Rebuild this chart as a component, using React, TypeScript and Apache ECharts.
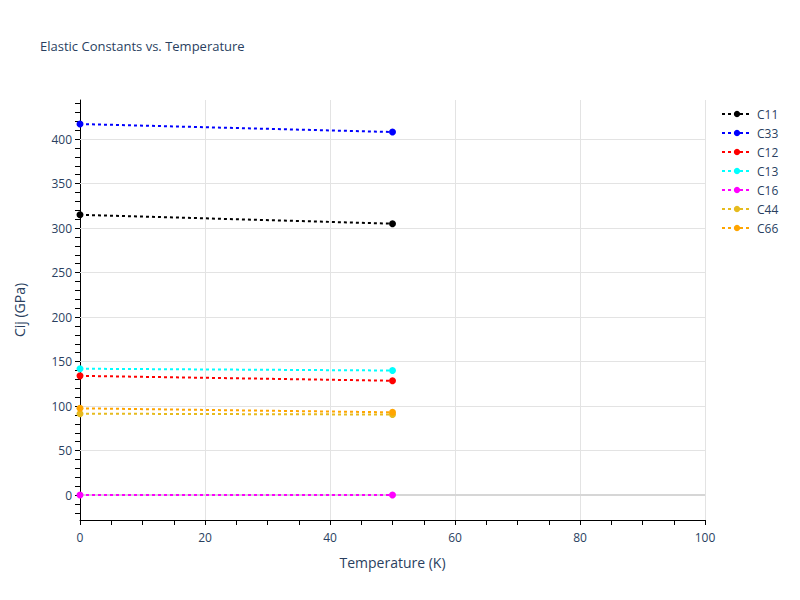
import React, { useEffect, useRef } from "react";
import * as echarts from "echarts";

const temperatures = [0, 50];
const seriesNames = ["C11", "C33", "C12", "C13", "C16", "C44", "C66"];
const seriesColors = ["#000000", "#0000ff", "#ff0000", "#00ffff", "#ff00ff", "#e6bb1e", "#ffa500"];
const c11 = [315, 305];
const c33 = [417, 408];
const c12 = [134, 128.5];
const c13 = [142, 140];
const c16 = [0, 0];
const c44 = [91.5, 90.5];
const c66 = [97.5, 93];
const seriesValues = [c11, c33, c12, c13, c16, c44, c66];

const yLabelValues = [0, 50, 100, 150, 200, 250, 300, 350, 400];
const yTickValues = [-20, -10, 0, 10, 20, 30, 40, 50, 60, 70, 80, 90, 100, 110, 120, 130, 140, 150, 160, 170, 180, 190, 200, 210, 220, 230, 240, 250, 260, 270, 280, 290, 300, 310, 320, 330, 340, 350, 360, 370, 380, 390, 400, 410, 420, 430, 440];

const TEXT = "#2a3f5f";
const FONT = "Open Sans";

export default function App() {
  const ref = useRef<HTMLDivElement>(null);
  useEffect(() => {
    document.body.style.margin = "0";
    if (!ref.current) return;
    const chart = echarts.init(ref.current, null, { renderer: "svg" });
    const series: any[] = seriesNames.map((name, i) => ({
      name,
      type: "line",
      data: temperatures.map((t, j) => [t, seriesValues[i][j]]),
      symbol: "circle",
      symbolSize: 7,
      color: seriesColors[i],
      lineStyle: { type: [3, 3], width: 2, color: seriesColors[i] },
      itemStyle: { color: seriesColors[i] },
      z: 3,
    }));
    series.push({
      name: "__grid",
      type: "line",
      data: [],
      silent: true,
      z: 1,
      markLine: {
        silent: true,
        symbol: "none",
        z: 1,
        label: { show: false },
        animation: false,
        data: yLabelValues.map((v) => ({
          yAxis: v,
          lineStyle: v === 0 ? { color: "#d6d6d6", width: 2, type: "solid" } : { color: "#e3e3e3", width: 1, type: "solid" },
        })),
      },
    });
    chart.setOption({
      animation: false,
      backgroundColor: "#ffffff",
      textStyle: { fontFamily: FONT },
      title: {
        text: "Elastic Constants vs. Temperature",
        left: 35,
        top: 34,
        textStyle: { fontFamily: FONT, fontSize: 13, fontWeight: "normal", color: TEXT },
      },
      legend: {
        orient: "vertical",
        left: 716,
        top: 103,
        itemWidth: 30,
        itemHeight: 8,
        itemGap: 7,
        data: seriesNames,
        textStyle: { fontFamily: FONT, fontSize: 12, color: TEXT },
      },
      grid: { left: 80, right: 95, top: 100, bottom: 80, containLabel: false },
      xAxis: {
        type: "value",
        min: 0,
        max: 100,
        interval: 20,
        name: "Temperature (K)",
        nameLocation: "middle",
        nameGap: 35,
        nameTextStyle: { fontFamily: FONT, fontSize: 14, color: TEXT },
        axisLine: { show: true, onZero: false, lineStyle: { color: "#000", width: 1 } },
        axisTick: { show: true, length: 5, lineStyle: { color: "#000" } },
        minorTick: { show: true, splitNumber: 4, length: 5, lineStyle: { color: "#000" } },
        axisLabel: { fontFamily: FONT, fontSize: 12, color: TEXT, margin: 11 },
        splitLine: { show: true, lineStyle: { color: "#e3e3e3", width: 1 } },
        minorSplitLine: { show: false },
      },
      yAxis: {
        type: "value",
        min: -28,
        max: 444,
        name: "Cij (GPa)",
        nameLocation: "middle",
        nameGap: 54,
        nameTextStyle: { fontFamily: FONT, fontSize: 14, color: TEXT },
        axisLine: { show: true, onZero: false, lineStyle: { color: "#000", width: 1 } },
        axisTick: { show: true, length: 5, customValues: yTickValues, lineStyle: { color: "#000" } },
        axisLabel: { fontFamily: FONT, fontSize: 12, color: TEXT, margin: 8, customValues: yLabelValues },
        splitLine: { show: false },
      },
      series,
    });
    return () => chart.dispose();
  }, []);
  return <div ref={ref} style={{ width: 800, height: 600 }} />;
}
